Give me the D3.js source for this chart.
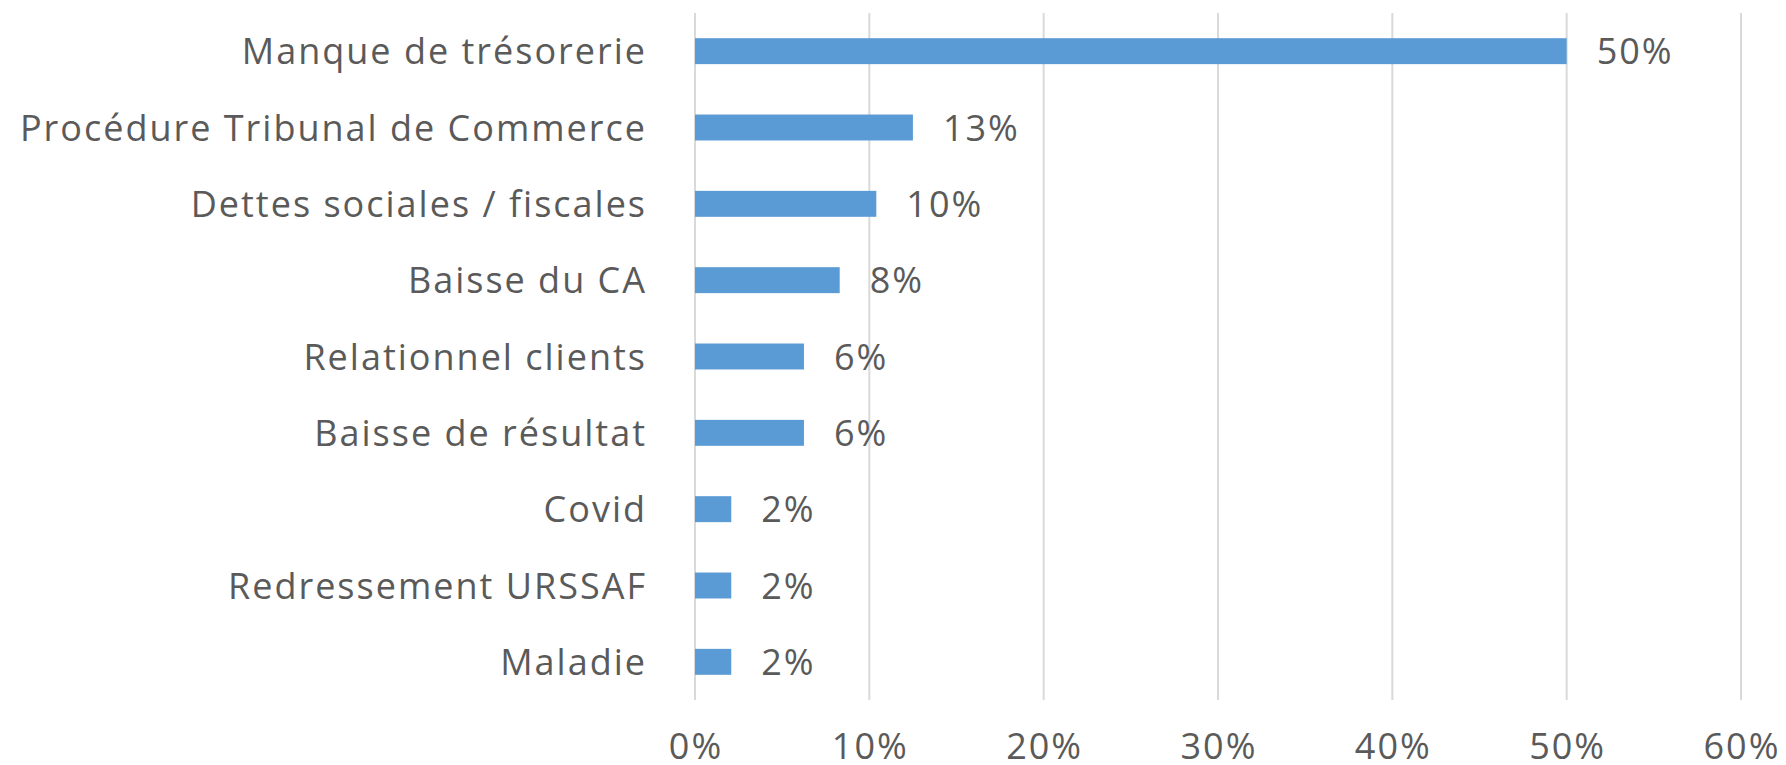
<!DOCTYPE html>
<html><head><meta charset="utf-8">
<script src="https://cdn.jsdelivr.net/npm/d3@7"></script>
<style>
html,body{margin:0;padding:0;background:#fff;}
svg{display:block;}
text{font-family:"Open Sans",sans-serif;fill:#5a5a5a;letter-spacing:2px;}
</style></head>
<body>
<svg id="chart" width="1786" height="765"></svg>
<script>
const categories = ["Manque de trésorerie","Procédure Tribunal de Commerce","Dettes sociales / fiscales","Baisse du CA","Relationnel clients","Baisse de résultat","Covid","Redressement URSSAF","Maladie"];
const values = [0.50, 0.125, 0.104, 0.083, 0.0625, 0.0625, 0.0208, 0.0208, 0.0208];
const tickValues = [0, 0.1, 0.2, 0.3, 0.4, 0.5, 0.6];

const svg = d3.select("#chart");
const margin = {left:695, right:45, top:13, bottom:65};
const W = 1786, H = 765;
const x = d3.scaleLinear().domain([0,0.6]).range([margin.left, W - margin.right]);
const y = d3.scaleBand().domain(categories).range([margin.top, H - margin.bottom]).paddingInner(0.66).paddingOuter(0.33);
const fmt = d3.format(".0%");
const fs = 36;

svg.append("g").selectAll("line").data(tickValues).join("line")
  .attr("x1", d=>x(d)).attr("x2", d=>x(d))
  .attr("y1", margin.top).attr("y2", H - margin.bottom)
  .attr("stroke", "#d9d9d9").attr("stroke-width", 2);

svg.append("g").selectAll("rect").data(values).join("rect")
  .attr("x", x(0)).attr("y", (d,i)=>y(categories[i]))
  .attr("width", d=>x(d)-x(0)).attr("height", y.bandwidth())
  .attr("fill", "#5b9bd5");

svg.append("g").selectAll("text").data(values).join("text")
  .attr("x", d=>x(d)+30).attr("y", (d,i)=>y(categories[i]) + y.bandwidth()/2 + 13)
  .attr("font-size", fs).text(d=>fmt(d));

svg.append("g").selectAll("text").data(categories).join("text")
  .attr("x", x(0) - 48).attr("y", d=>y(d) + y.bandwidth()/2 + 13)
  .attr("text-anchor", "end").attr("font-size", fs).text(d=>d);

svg.append("g").selectAll("text").data(tickValues).join("text")
  .attr("x", d=>x(d)+1).attr("y", 759)
  .attr("text-anchor", "middle").attr("font-size", fs).text(d=>fmt(d));
</script>
</body></html>
